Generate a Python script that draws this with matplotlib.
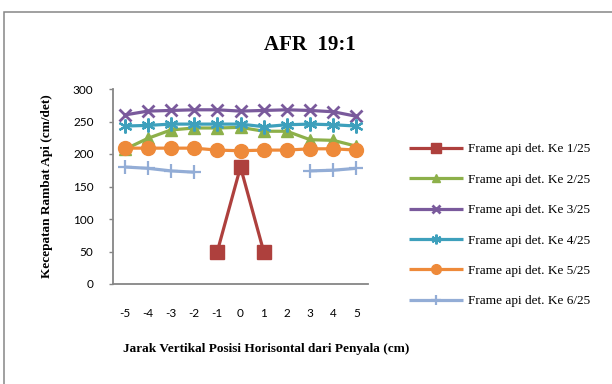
import numpy as np
import matplotlib
matplotlib.use('Agg')
import matplotlib.pyplot as plt
from matplotlib.patches import Rectangle

nan = np.nan

# jarak (cm)
x_labels = [-5, -4, -3, -2, -1, 0, 1, 2, 3, 4, 5]

# kecepatan rambat api (cm/det) per frame
ke1 = [nan, nan, nan, nan, 50, 180, 50, nan, nan, nan, nan]
ke2 = [207, 224, 237, 240, 240, 241, 235, 235, 222, 221, 212]
ke3 = [260, 266, 267, 268, 268, 266, 267, 268, 267, 265, 258]
ke4 = [243, 244, 246, 246, 246, 246, 242, 245, 246, 245, 243]
ke5 = [209, 209, 209, 209, 206, 205, 206, 206, 208, 208, 206]
ke6 = [180, 178, 174, 172, nan, nan, nan, nan, 174, 175, 178]

labels = ['Frame api det. Ke %d/25' % i for i in range(1, 7)]

W, H = 612, 384
fig = plt.figure(figsize=(W / 100, H / 100), dpi=100)

# outer chart border (right/bottom edges fall outside the image)
fig.patches.append(Rectangle((4 / W, -0.1), 1.2, 1 - 12 / H + 0.1,
                             transform=fig.transFigure, fill=False,
                             edgecolor='#868686', lw=1.1))

ax = fig.add_axes([113 / W, 1 - 284 / H, 255 / W, 195 / H])

x = np.arange(len(x_labels))
# series style: colour, marker, size, edge width
styles = [
    ('#AE403D', 's', 10, 1),
    ('#8DB04A', '^', 8, 1),
    ('#7A5A9C', 'x', 8, 2.0),
    ('#3EA0BC', (6, 2, 0), 10, 1.6),
    ('#EE8A3A', 'o', 10, 1),
    ('#93ADD6', '+', 10, 1.6),
]
series = [ke1, ke2, ke3, ke4, ke5, ke6]

for i, (ys, st, lab) in enumerate(zip(series, styles, labels)):
    c, m, ms, mew = st
    ax.plot(x, ys, color=c, lw=2.3, marker=m, ms=ms, mew=mew,
            mec=c, mfc=c, label=lab, zorder=3 + i, clip_on=False,
            solid_capstyle='butt')

ax.set_xlim(-0.5, len(x_labels) - 0.5)
ax.set_ylim(0, 300)
ax.set_xticks(x)
ax.set_xticklabels([str(v) for v in x_labels])
ax.set_yticks(range(0, 301, 50))

for s in ['top', 'right']:
    ax.spines[s].set_visible(False)
for s in ['left', 'bottom']:
    ax.spines[s].set_color('#868686')
    ax.spines[s].set_linewidth(1.3)

ax.tick_params(axis='x', length=0, pad=17, labelsize=8.5)
ax.tick_params(axis='y', length=3, width=1, color='#868686', direction='out',
               pad=11, labelsize=8.5)
for t in ax.get_xticklabels() + ax.get_yticklabels():
    t.set_fontfamily('Lato')

serif = 'Liberation Serif'
ax.set_ylabel('Kecepatan Rambat Api (cm/det)', fontfamily=serif,
              fontweight='bold', fontsize=9.5, va='center')
ax.yaxis.set_label_coords((47 - 113) / 255, 0.5)
ax.set_xlabel('Jarak Vertikal Posisi Horisontal dari Penyala (cm)',
              fontfamily=serif, fontweight='bold', fontsize=9.5, va='center')
ax.xaxis.set_label_coords((266 - 113) / 255, (284 - 349) / 195)

fig.text(310 / W, 1 - 45 / H, 'AFR  19:1', fontfamily=serif,
         fontweight='bold', fontsize=15, ha='center', va='center')

leg = ax.legend(loc='upper left', bbox_to_anchor=(409 / W, 1 - 143 / H),
                bbox_transform=fig.transFigure, frameon=False,
                prop={'family': serif, 'size': 9.5}, handlelength=4.1,
                handletextpad=0.35, labelspacing=1.38, borderpad=0,
                borderaxespad=0, markerscale=0.7)

fig.savefig('out.png', dpi=100)
